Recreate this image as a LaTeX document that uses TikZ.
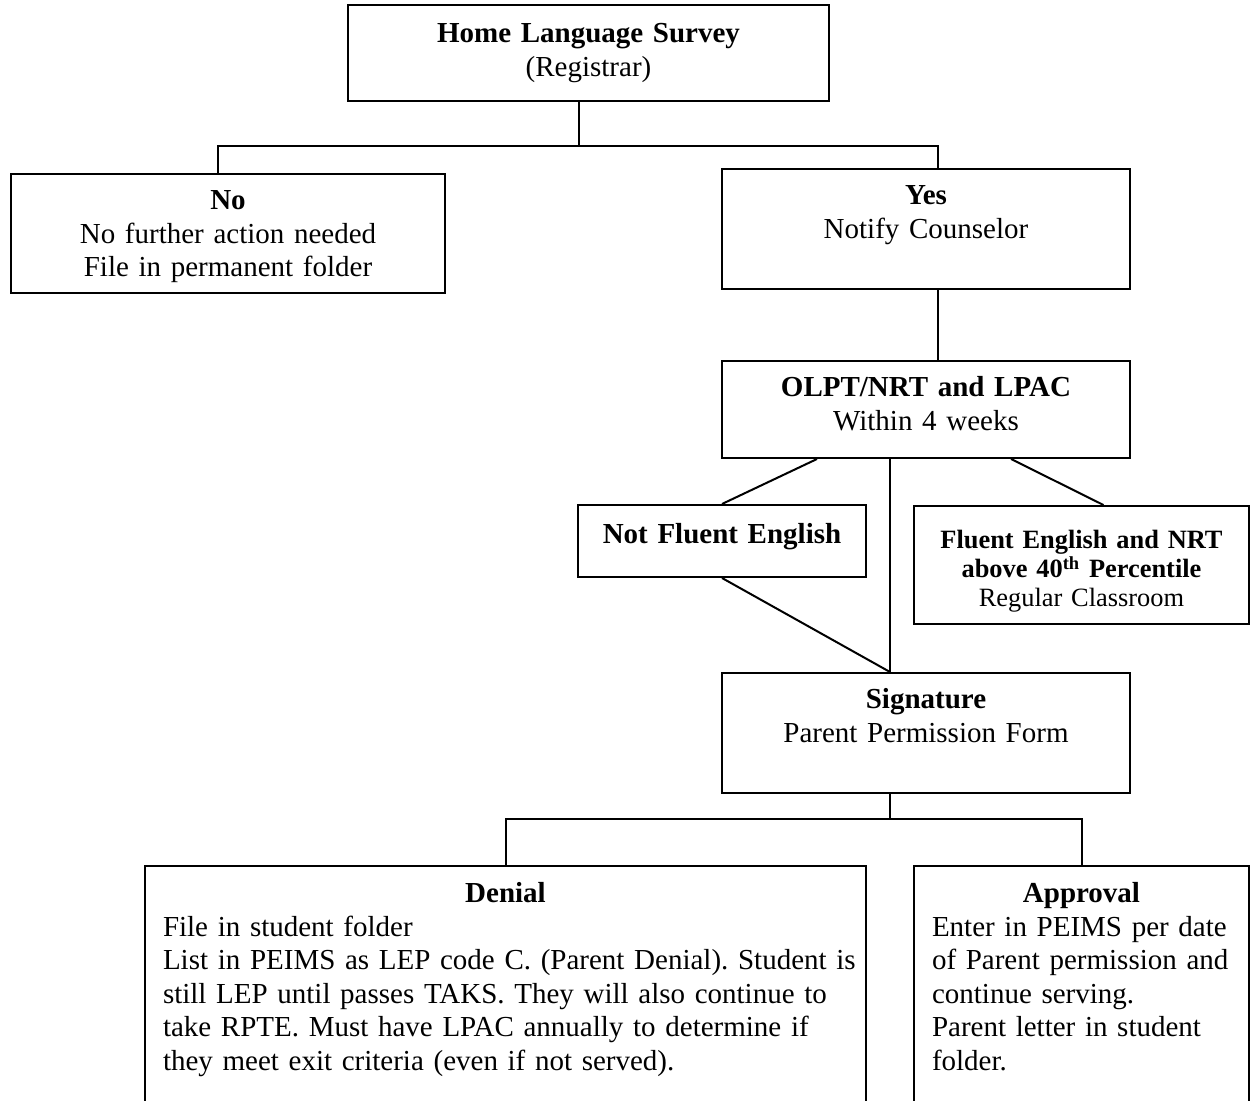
\documentclass[tikz,border=0pt]{standalone}
\usepackage{fontspec}
\setmainfont{Liberation Serif}
\frenchspacing
\begin{document}
\begin{tikzpicture}[x=0.5pt, y=-0.5pt, line width=1pt,
  box/.style={draw, anchor=north west, inner xsep=0pt, inner ysep=0pt, align=center,
    font=\fontsize{14.5}{16.75}\selectfont},
  note/.style={box, align=left, inner xsep=9pt}]
\useasboundingbox (0,0) rectangle (1250,1101);
\clip (0,0) rectangle (1250,1101);
% survey and first split
\node[box, text width=240.5pt, text height=19pt, text depth=29pt] (hls) at (347,4)
  {\textbf{Home Language Survey}\\(Registrar)};
\node[box, text width=217pt, text height=18pt, text depth=41.5pt] (no) at (10,173)
  {\textbf{No}\\No further action needed\\File in permanent folder};
\node[box, text width=204pt, text height=18pt, text depth=42pt] (yes) at (721,168)
  {\textbf{Yes}\\Notify Counselor};
\draw ([xshift=-5pt]hls.south) -- ++(0,44) coordinate (fork1);
\draw ([xshift=-5pt]no.north) |- (fork1) -| ([xshift=6pt]yes.north);
% testing
\node[box, text width=204pt, text height=18pt, text depth=30.5pt] (olpt) at (721,360)
  {\textbf{OLPT/NRT and LPAC}\\Within 4 weeks};
\draw ([xshift=6pt]yes.south) -- ([xshift=6pt]olpt.north);
\node[box, text width=144pt, text height=19.5pt, text depth=16.5pt] (notfl) at (577,504)
  {\textbf{Not Fluent English}};
\node[box, text width=167.5pt, text height=21.5pt, text depth=37.5pt,
  font=\fontsize{13.2}{14.5}\selectfont] (fluent) at (913,505)
  {\textbf{Fluent English and NRT}\\\textbf{above 40\textsuperscript{th} Percentile}\\Regular Classroom};
\node[box, text width=204pt, text height=18pt, text depth=42pt] (sig) at (721,672)
  {\textbf{Signature}\\Parent Permission Form};
\draw ([xshift=-54.5pt]olpt.south) -- (notfl.north);
\draw ([xshift=-18pt]olpt.south) -- ([xshift=-18pt]sig.north);
\draw ([xshift=42.5pt]olpt.south) -- ([xshift=11pt]fluent.north);
\draw (notfl.south) -- ([xshift=-18pt]sig.north);
% parent answer
\node[note, text width=342.5pt, text height=18.5pt, text depth=106.5pt] (denial) at (144,865)
  {\makebox[\linewidth]{\textbf{Denial}}\\
   File in student folder\\
   \mbox{List in PEIMS as LEP code C. (Parent Denial). Student is}\\
   \mbox{still LEP until passes TAKS. They will also continue to}\\
   \mbox{take RPTE. Must have LPAC annually to determine if}\\
   \mbox{they meet exit criteria (even if not served).}};
\node[note, text width=149.5pt, text height=18.5pt, text depth=106.5pt] (approval) at (913,865)
  {\makebox[\linewidth]{\textbf{Approval}}\\
   Enter in PEIMS per date\\
   \mbox{of Parent permission and}\\
   continue serving.\\
   Parent letter in student\\
   folder.};
\draw ([xshift=-18pt]sig.south) -- ++(0,25) coordinate (fork2);
\draw (denial.north) |- (fork2) -| (approval.north);
\end{tikzpicture}
\end{document}
